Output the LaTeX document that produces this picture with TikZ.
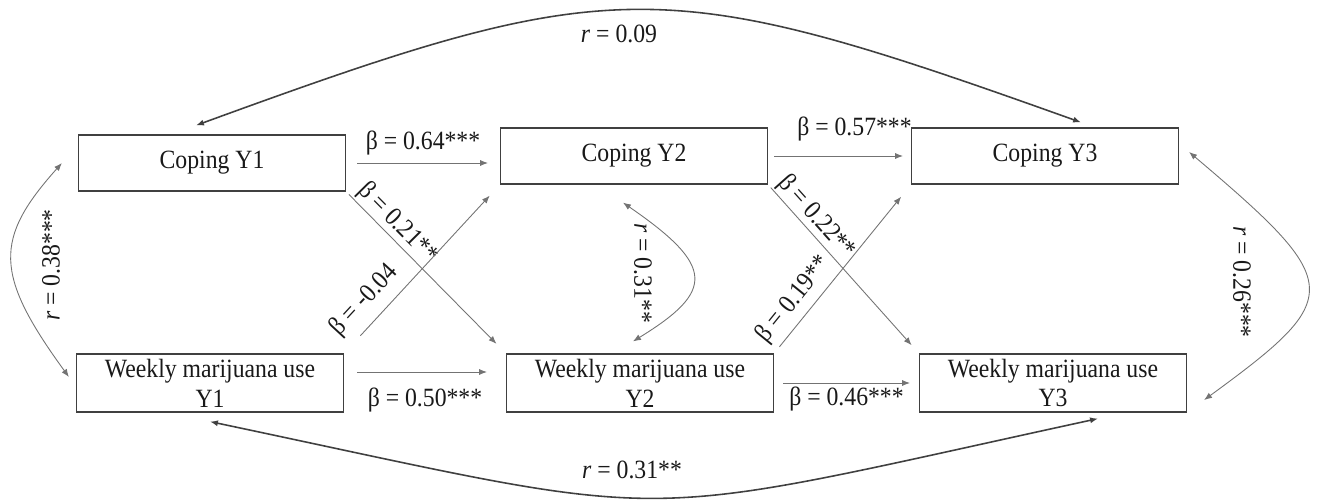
\documentclass[tikz,border=0pt]{standalone}
\usepackage{fontspec}
\setmainfont{Liberation Serif}[FakeStretch=0.9]
\usetikzlibrary{arrows.meta}

\tikzset{
    copebox/.style={draw=black!75, line width=0.7pt, minimum width=5.34cm, minimum height=1.12cm,
        inner sep=0pt, align=center, text=black!90, font=\fontsize{15}{17}\selectfont},
    usebox/.style={copebox, minimum height=1.16cm},
    regline/.style={draw=black!55, line width=0.5pt, -{Latex[length=4.5pt,width=3.5pt]}},
    corline/.style={draw=black!55, line width=0.5pt, {Latex[length=4.5pt,width=3.5pt]}-{Latex[length=4.5pt,width=3.5pt]}},
    widecor/.style={corline, draw=black!75, line width=0.9pt},
    coef/.style={text=black!90, font=\fontsize{15}{17}\selectfont, inner sep=1pt}
}

\begin{document}
\begin{tikzpicture}[x=0.02cm, y=0.02cm]
    \useasboundingbox (0,0) rectangle (1318,501);

    % Coping boxes
    \foreach \n/\px/\py in {1/212/338, 2/634/345, 3/1045/345}
        {
            \node[copebox] (c\n) at (\px,\py) {Coping Y\n};
        }

    % Weekly use boxes
    \foreach \n/\px in {1/210, 2/640, 3/1053}
        {
            \node[usebox] (w\n) at (\px,118) {Weekly marijuana use\\Y\n};
        }

    % Stability paths
    \draw[regline, shorten <=0.22cm, shorten >=0.24cm] (c1.east) -- (c1.east -| c2.west)
        node[coef, midway, above=3pt] {β = 0.64***};
    \draw[regline, shorten <=0.12cm, shorten >=0.16cm] (c2.east) -- (c3.west)
        node[coef, midway, above=7pt, xshift=0.3cm] {β = 0.57***};
    \draw[regline, shorten <=0.26cm, shorten >=0.38cm] ([yshift=0.22cm]w1.east) -- ([yshift=0.22cm]w1.east -| w2.west)
        node[coef, midway, below=8pt] {β = 0.50***};
    \draw[regline, shorten <=0.18cm, shorten >=0.18cm] (w2.east) -- (w3.west)
        node[coef, midway, below=1pt] {β = 0.46***};

    % Cross-lagged paths
    \draw[regline, shorten <=0.08cm, shorten >=0.27cm] (c1.south east) -- (w2.north west)
        node[coef, sloped, above, pos=0.26] {β = 0.21**};
    \draw[regline, shorten <=0.48cm, shorten >=0.3cm] (w1.north east) -- (c2.south west)
        node[coef, sloped, above=4pt, pos=0.23] {β = -0.04};
    \draw[regline, shorten <=0.08cm, shorten >=0.22cm] (c2.south east) -- (w3.north west)
        node[coef, sloped, above, pos=0.25] {β = 0.22**};
    \draw[regline, shorten <=0.17cm, shorten >=0.31cm] (w2.north east) -- (c3.south west)
        node[coef, sloped, above=2.5pt, pos=0.25] {β = 0.19**};

    % Correlations
    \draw[corline] ([shift={(-16,0)}]c1.west) .. controls (-6,262) and (-6,227) .. ([shift={(-7,6)}]w1.west);
    \draw[corline] ([shift={(-11,-18)}]c2.south) .. controls (715,235) and (715,210) .. ([shift={(-7,12)}]w2.north);
    \draw[corline] ([shift={(10,4)}]c3.east) .. controls (1345,217) and (1345,204) .. ([shift={(17,-17)}]w3.east);
    \draw[widecor] ([shift={(-16,9)}]c1.north) .. controls (616,529) and (661,529) .. ([shift={(36,5)}]c3.north);
    \draw[widecor] ([shift={(0,-9)}]w1.south) .. controls (695,-23) and (613,-23) .. ([shift={(45,-6)}]w3.south);

    % Correlation labels
    \node[coef] (r09) at (619,467) {\textit{r} = 0.09};
    \node[coef] (r31b) at (632,31) {\textit{r} = 0.31**};
    \node[coef, rotate=90] (r38) at (51,236) {\textit{r} = 0.38***};
    \node[coef, rotate=-90] (r31m) at (643,228) {\textit{r} = 0.31**};
    \node[coef, rotate=-90] (r26) at (1242,219) {\textit{r} = 0.26***};

\end{tikzpicture}
\end{document}
